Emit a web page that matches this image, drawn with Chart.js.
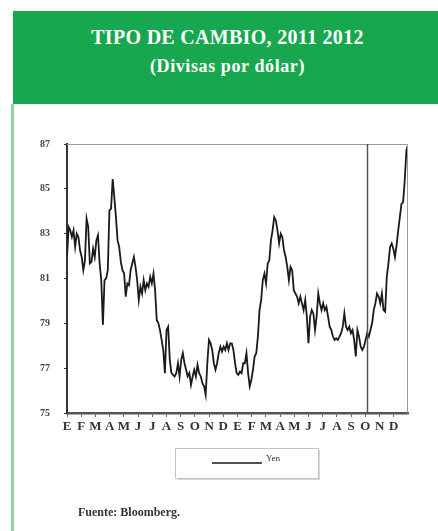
<!DOCTYPE html>
<html>
<head>
<meta charset="utf-8">
<script src="https://cdn.jsdelivr.net/npm/chart.js@4/dist/chart.umd.min.js"></script>
<style>
  body { margin: 0; background: #fff; }
  #wrap { position: relative; width: 438px; height: 531px; overflow: hidden; }
  #head {
    position: absolute; left: 13px; top: 11px; width: 425px; height: 93px;
    background: #17a84f; color: #fff; text-align: center;
    font-family: "Liberation Serif", "DejaVu Serif", serif; font-weight: bold;
  }
  #head div { position: absolute; left: 4px; right: 0; line-height: 1; }
  #head .t1 { top: 16px; font-size: 20px; letter-spacing: 0.3px; }
  #head .t2 { top: 46px; font-size: 18px; letter-spacing: 0.6px; }
  #strip { position: absolute; left: 11px; top: 104px; width: 3px; height: 427px; background: #8fd4a8; }
  #src {
    position: absolute; left: 78px; top: 505px; font-size: 12px; font-weight: bold;
    font-family: "Liberation Serif", "DejaVu Serif", serif; color: #333;
  }
  canvas { position: absolute; left: 0; top: 0; }
</style>
</head>
<body>
<div id="wrap">
  <canvas id="c" width="438" height="531"></canvas>
  <div id="head"><div class="t1">TIPO DE CAMBIO, 2011 2012</div><div class="t2">(Divisas por dólar)</div></div>
  <div id="strip"></div>
  <div id="src">Fuente: Bloomberg.</div>
</div>
<script>
// yen per dollar, Jan 2011 - Dec 2012, evenly spaced readings
const yen = [
  81.96, 83.30, 83.15, 82.85, 83.15, 82.41, 83.00, 82.85, 82.26, 81.96,
  81.37, 81.81, 83.67, 83.30, 81.67, 81.74, 82.33, 81.96, 82.70, 82.93,
  81.67, 80.93, 78.93, 80.93, 81.00, 81.37, 84.04, 84.11, 85.44, 84.63,
  83.74, 82.70, 82.41, 81.74, 81.37, 81.22, 80.19, 80.78, 80.70, 81.37,
  81.67, 81.96, 81.52, 80.93, 80.04, 80.63, 80.33, 80.93, 80.48, 80.78,
  80.63, 81.07, 80.78, 81.22, 80.48, 79.15, 79.00, 78.70, 78.26, 77.81,
  76.78, 78.70, 78.85, 77.37, 76.78, 76.70, 76.63, 76.78, 77.22, 76.63,
  77.37, 77.67, 77.22, 76.93, 76.63, 76.78, 76.26, 76.63, 76.93, 76.63,
  77.15, 76.78, 76.63, 76.33, 76.19, 75.81, 77.22, 78.26, 78.11, 77.81,
  77.22, 76.93, 77.22, 77.67, 77.96, 77.74, 77.96, 77.81, 78.11, 77.81,
  78.11, 78.11, 77.81, 77.22, 76.78, 76.70, 76.85, 76.78, 77.22, 77.22,
  77.67, 76.78, 76.19, 76.48, 76.93, 77.52, 77.67, 78.41, 79.59, 80.04,
  80.93, 81.22, 80.78, 81.67, 81.81, 82.70, 83.15, 83.74, 83.59, 83.15,
  82.56, 83.00, 82.85, 82.26, 81.96, 81.52, 80.93, 81.52, 81.37, 80.48,
  80.33, 80.19, 79.89, 80.19, 79.89, 79.59, 80.04, 79.30, 78.11, 79.30,
  79.59, 79.44, 78.70, 79.30, 80.33, 79.89, 79.59, 79.89, 79.59, 79.74,
  79.30, 78.85, 78.70, 78.41, 78.26, 78.33, 78.26, 78.41, 78.56, 78.85,
  79.44, 78.85, 78.70, 78.85, 78.56, 78.70, 78.26, 77.52, 78.70, 78.41,
  77.96, 77.81, 77.96, 78.26, 78.56, 78.41, 78.70, 79.00, 79.59, 79.89,
  80.33, 80.19, 79.89, 80.33, 79.59, 79.52, 81.07, 81.67, 82.41, 82.56,
  82.33, 81.96, 82.48, 83.15, 83.74, 84.33, 84.41, 85.37, 86.70, 86.95
];
const monthLabels = ['E','F','M','A','M','J','J','A','S','O','N','D',
                     'E','F','M','A','M','J','J','A','S','O','N','D'];
const yTicks = [75, 77, 79, 81, 83, 85, 87];
const markerMonth = 21.1;   // vertical reference line, in months from Jan 2011

const N = yen.length;
const perMonth = (N - 1) / monthLabels.length;
const serif = '"Liberation Serif", "DejaVu Serif", serif';

const frame = {
  id: 'frame',
  afterDatasetsDraw(chart) {
    const { ctx, chartArea: a, scales } = chart;
    ctx.save();
    ctx.strokeStyle = '#9a9a9a';
    ctx.lineWidth = 1;
    ctx.beginPath();
    ctx.moveTo(a.left, a.top + 0.5);
    ctx.lineTo(a.right - 0.5, a.top + 0.5);
    ctx.lineTo(a.right - 0.5, a.bottom);
    ctx.stroke();
    const x = Math.round(scales.x.getPixelForValue(markerMonth * perMonth)) + 0.5;
    ctx.strokeStyle = '#555';
    ctx.lineWidth = 1.5;
    ctx.beginPath();
    ctx.moveTo(x, a.top);
    ctx.lineTo(x, a.bottom);
    ctx.stroke();
    ctx.restore();
  }
};

// boxed legend under the axis
const boxLegend = {
  id: 'boxLegend',
  afterDraw(chart) {
    const { ctx } = chart;
    const ds = chart.data.datasets[0];
    const bx = 175, by = 448, bw = 143, bh = 30;
    ctx.save();
    ctx.fillStyle = '#d8d8d8';
    ctx.fillRect(bx + 2, by + 2, bw, bh);
    ctx.fillStyle = '#fff';
    ctx.fillRect(bx, by, bw, bh);
    ctx.strokeStyle = '#c4c4c4';
    ctx.lineWidth = 1;
    ctx.strokeRect(bx + 0.5, by + 0.5, bw, bh);
    ctx.strokeStyle = ds.borderColor;
    ctx.lineWidth = 1.5;
    ctx.beginPath();
    ctx.moveTo(212, 463);
    ctx.lineTo(262, 463);
    ctx.stroke();
    ctx.fillStyle = '#333';
    ctx.font = '9px ' + serif;
    ctx.textBaseline = 'middle';
    ctx.fillText(ds.label, 266, 459);
    ctx.restore();
  }
};

new Chart(document.getElementById('c'), {
  type: 'line',
  data: {
    labels: yen.map((v, i) => i),
    datasets: [{
      label: 'Yen',
      data: yen.map((v, i) => ({ x: i, y: v })),
      borderColor: '#1a1a1a',
      borderWidth: 1.8,
      pointRadius: 0,
      tension: 0,
      fill: false
    }]
  },
  options: {
    responsive: false,
    animation: false,
    layout: { padding: { left: 20, right: 30, top: 144, bottom: 88 } },
    plugins: { legend: { display: false }, tooltip: { enabled: false } },
    scales: {
      x: {
        type: 'linear',
        min: 0,
        max: N - 1,
        afterBuildTicks(scale) {
          scale.ticks = monthLabels.map((m, i) => ({ value: i * perMonth }));
        },
        afterFit(scale) { scale.height = 30; },
        border: { color: '#555', width: 2.5 },
        grid: { drawOnChartArea: false, tickLength: 4, color: '#666' },
        ticks: {
          autoSkip: false,
          maxRotation: 0,
          padding: 2,
          color: '#333',
          font: { family: serif, size: 13, weight: 'bold' },
          callback: (v, i) => monthLabels[i]
        }
      },
      y: {
        min: 75,
        max: 87,
        afterBuildTicks(scale) {
          scale.ticks = yTicks.map(v => ({ value: v }));
        },
        afterFit(scale) { scale.width = 47; },
        border: { color: '#333', width: 2 },
        grid: { drawOnChartArea: false, tickLength: 3, color: '#333' },
        ticks: {
          padding: 14,
          color: '#444',
          font: { family: serif, size: 10, weight: 'bold' }
        }
      }
    }
  },
  plugins: [frame, boxLegend]
});
</script>
</body>
</html>
